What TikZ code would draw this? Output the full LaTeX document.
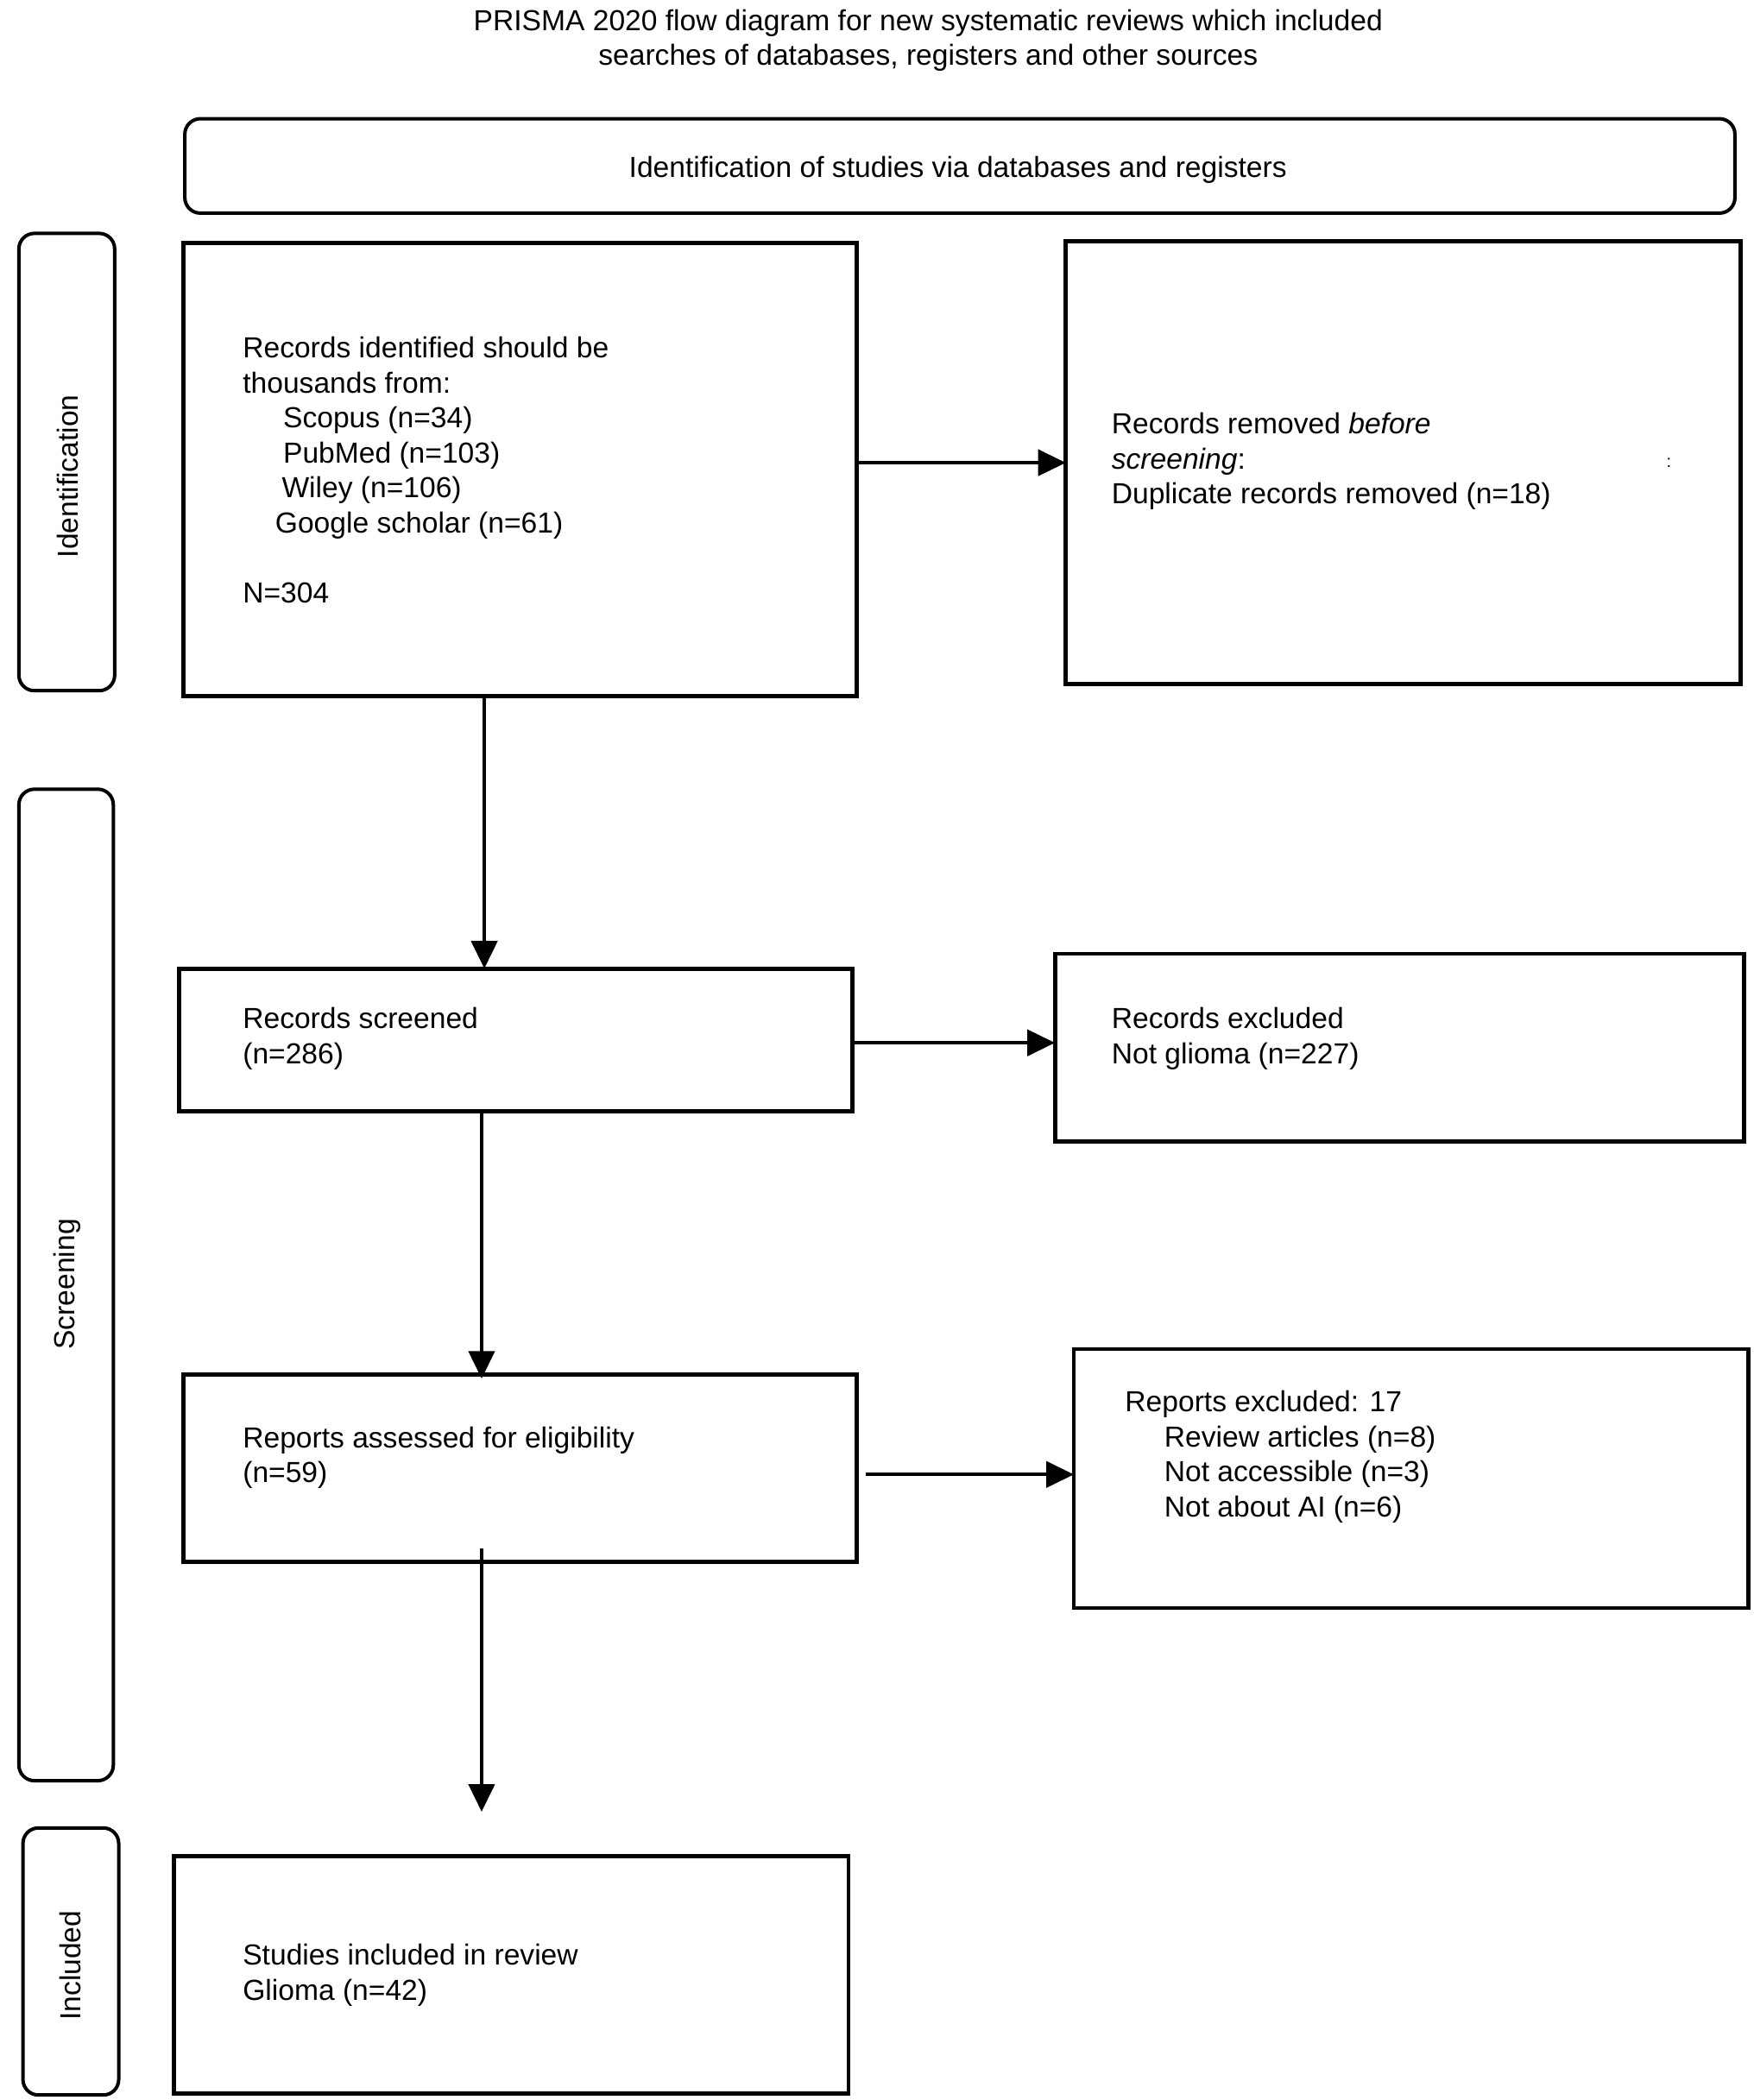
\documentclass[tikz,border=0pt]{standalone}
\usepackage{fontspec}
\setmainfont{Liberation Sans}
\usetikzlibrary{arrows.meta,calc,fit}
\begin{document}
\begin{tikzpicture}[x=0.78154pt,y=-0.78154pt,
  every node/.style={font=\fontsize{16.8pt}{20.3pt}\selectfont, inner sep=0pt, outer sep=0pt},
  box/.style={draw, line width=2.4pt},
  side/.style={draw, line width=2pt, rounded corners=9pt},
  txt/.style={anchor=west, align=left},
  arr/.style={line width=2.2pt, -{Triangle[length=16pt,width=15pt]}}]
\useasboundingbox (0,0) rectangle (1300,1556.7);
% title
\node[align=center] (title) at (688,30) {PRISMA 2020 flow diagram for new systematic reviews which included\\searches of databases, registers and other sources};
% header
\node[side, fit={(137,88) (1286,158)}] (hdr) {};
\node (hdrt) at (710,126) {Identification of studies via databases and registers};
% side boxes
\node[side, fit={(14,173) (85,512)}] (s1) {};
\node[rotate=90] (l1) at (50,353) {Identification};
\node[side, fit={(14,585) (84,1320)}] (s2) {};
\node[rotate=90] (l2) at (50,952) {Screening};
\node[side, fit={(17,1355) (88,1553)}] (s3) {};
\node[rotate=90] (l3) at (52,1457) {Included};
% boxes
\node[box, fit={(136,180) (635,516)}] (b1) {};
\node[box, fit={(790,179) (1290,507)}] (b2) {};
\node[box, fit={(133,718) (632,824)}] (b3) {};
\node[box, fit={(782,707) (1293,846)}] (b4) {};
\node[box, fit={(136,1019) (635,1158)}] (b5) {};
\node[box, fit={(796,1000) (1296,1192)}] (b6) {};
\node[box, fit={(129,1376) (629,1552)}] (b7) {};
% texts
\node[txt] (t1) at (180,348.5) {Records identified should be\\thousands from:\\\hspace*{23.4pt}Scopus (n=34)\\\hspace*{23.4pt}PubMed (n=103)\\\hspace*{22.6pt}Wiley (n=106)\\\hspace*{18.8pt}Google scholar (n=61)\\[20.3pt]N=304};
\node[txt] (t2) at (824,342) {Records removed \textit{before}\\\textit{screening}:\\Duplicate records removed (n=18)};
\node[font=\fontsize{10pt}{11pt}\selectfont] (t2b) at (1237,343) {:};
\node[txt] (t3) at (180,770) {Records screened\\(n=286)};
\node[txt] (t4) at (824,770) {Records excluded\\Not glioma (n=227)};
\node[txt] (t5) at (180,1080.5) {Reports assessed for eligibility\\(n=59)};
\node[txt] (t6) at (834,1080) {Reports excluded: 17\\\hspace*{22.7pt}Review articles (n=8)\\\hspace*{22.7pt}Not accessible (n=3)\\\hspace*{22.7pt}Not about AI (n=6)};
\node[txt] (t7) at (180,1464) {Studies included in review\\Glioma (n=42)};
% arrow columns
\coordinate (ax1) at (359,0);
\coordinate (ax2) at (357,0);
% arrows
\draw[arr] (b1.east |- b2.west) -- (b2.west);
\draw[arr] (b1.south -| ax1) -- (b3.north -| ax1);
\draw[arr] ($(b3.east)+(0,2)$) -- ($(b4.west |- b3.east)+(0,2)$);
\draw[arr] (b3.south -| ax2) -- ($(b5.north -| ax2)+(0,3)$);
\draw[arr] ($(b5.east)+(7,4.5)$) -- ($(b6.west |- b5.east)+(0,4.5)$);
\draw[arr] ($(b5.south -| ax2)+(0,-10)$) -- ($(b7.north -| ax2)+(0,-33)$);
\end{tikzpicture}
\end{document}
